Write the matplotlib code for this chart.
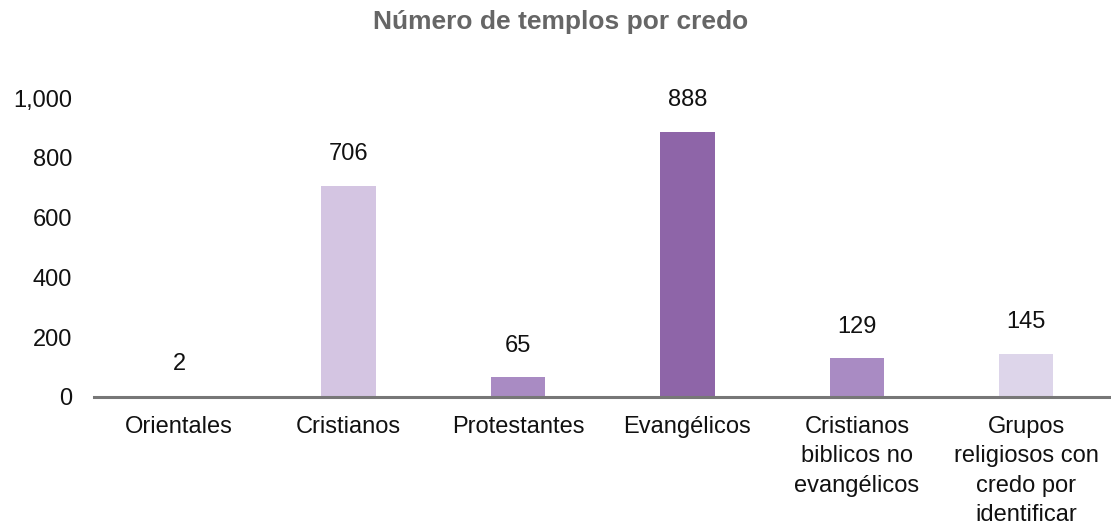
import matplotlib
matplotlib.use('Agg')
import matplotlib.pyplot as plt

plt.rcParams['font.family'] = ['Liberation Sans', 'DejaVu Sans']

categorias = ['Orientales', 'Cristianos', 'Protestantes', 'Evangélicos',
              'Cristianos\nbiblicos no\nevangélicos',
              'Grupos\nreligiosos con\ncredo por\nidentificar']
templos = [2, 706, 65, 888, 129, 145]
colores = ['#8e65a8', '#d4c5e2', '#a98bc3', '#8e65a8', '#a98bc3', '#ddd5ea']
yticks = [0, 200, 400, 600, 800, 1000]

fig = plt.figure(figsize=(11.11, 5.25), dpi=100)
ax = fig.add_axes([0.085, 0.244, 0.915, 0.569])

x = range(len(categorias))
bars = ax.bar(x, templos, width=0.32, color=colores, zorder=2)

for b, v in zip(bars, templos):
    ax.annotate(f'{v:,}', xy=(b.get_x() + b.get_width() / 2, v),
                xytext=(0, 15), textcoords='offset points',
                ha='center', va='bottom', fontsize=17, color='#111111')

ax.set_xlim(-0.5, len(categorias) - 0.5)
ax.set_ylim(0, 1000)
ax.set_yticks(yticks)
ax.set_yticklabels([f'{t:,}' for t in yticks])
ax.set_xticks(list(x))
ax.set_xticklabels(categorias, linespacing=1.42, va='top')

ax.tick_params(axis='both', length=0, labelsize=17, colors='#111111')
ax.tick_params(axis='x', pad=14)
ax.tick_params(axis='y', pad=16)

for side in ['top', 'right', 'left']:
    ax.spines[side].set_visible(False)
ax.spines['bottom'].set_color('#777777')
ax.spines['bottom'].set_linewidth(2.2)
ax.spines['bottom'].set_zorder(3)

fig.text(0.505, 0.958, 'Número de templos por credo', ha='center', va='center',
         fontsize=19, fontweight='bold', color='#666666')

fig.savefig('out.png', dpi=100)
